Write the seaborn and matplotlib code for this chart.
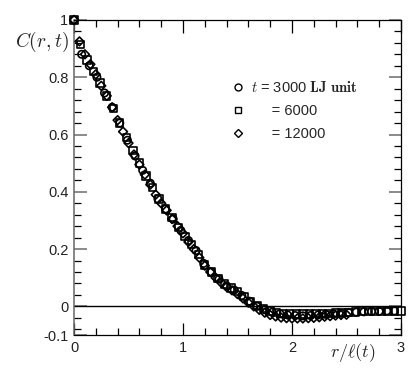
import matplotlib
matplotlib.use('Agg')
import matplotlib.pyplot as plt
from matplotlib.lines import Line2D
from matplotlib.ticker import FixedLocator, MultipleLocator
import seaborn as sns

# data
x_3000 = [0, .07, .14, .21, .28, .35, .42, .49, .56, .63, .70, .77, .84, .91, .98,
          1.05, 1.12, 1.19, 1.26, 1.33, 1.40, 1.47, 1.54, 1.61, 1.68, 1.75, 1.82,
          1.89, 1.96, 2.03, 2.10, 2.17, 2.24, 2.31, 2.38, 2.45, 2.52, 2.59, 2.66,
          2.73, 2.80, 2.87, 2.94]
c_3000 = [1.00, 0.88, 0.84, 0.80, 0.745, 0.695, 0.64, 0.58, 0.525, 0.475, 0.43,
          0.375, 0.34, 0.305, 0.265, 0.23, 0.195, 0.15, 0.12, 0.095, 0.072, 0.057,
          0.038, 0.018, 0.000, -0.012, -0.020, -0.026, -0.030, -0.032, -0.033,
          -0.032, -0.030, -0.028, -0.026, -0.024, -0.022, -0.020, -0.019, -0.018,
          -0.017, -0.016, -0.016]

x_6000 = [0, .06, .12, .18, .24, .30, .36, .42, .48, .54, .60, .66, .72, .78, .84,
          .90, .96, 1.02, 1.08, 1.14, 1.20, 1.26, 1.32, 1.38, 1.44, 1.50, 1.56,
          1.62, 1.68, 1.74, 1.80, 1.86, 1.92, 1.98, 2.04, 2.10, 2.16, 2.22, 2.28,
          2.34, 2.40, 2.46, 2.52, 2.58, 2.64, 2.70, 2.76, 2.82, 2.88, 2.94, 3.00]
c_6000 = [1.00, 0.915, 0.86, 0.82, 0.78, 0.735, 0.69, 0.64, 0.59, 0.545, 0.50,
          0.455, 0.415, 0.375, 0.34, 0.31, 0.275, 0.245, 0.215, 0.18, 0.145, 0.12,
          0.097, 0.078, 0.064, 0.051, 0.034, 0.018, 0.004, -0.008, -0.016, -0.021,
          -0.024, -0.026, -0.027, -0.027, -0.027, -0.026, -0.025, -0.024, -0.023,
          -0.022, -0.021, -0.020, -0.019, -0.018, -0.018, -0.017, -0.017, -0.016,
          -0.016]

x_12000 = [0, .05, .10, .15, .20, .25, .30, .35, .40, .45, .50, .55, .60, .65, .70,
           .75, .80, .85, .90, .95, 1.00, 1.05, 1.10, 1.15, 1.20, 1.25, 1.30, 1.35,
           1.40, 1.45, 1.50, 1.55, 1.60, 1.65, 1.70, 1.75, 1.80, 1.85, 1.90, 1.95,
           2.00, 2.05, 2.10, 2.15, 2.20, 2.25, 2.30, 2.35, 2.40, 2.45, 2.50]
c_12000 = [1.00, 0.925, 0.88, 0.845, 0.81, 0.77, 0.735, 0.695, 0.65, 0.61, 0.57,
           0.53, 0.495, 0.46, 0.425, 0.39, 0.36, 0.335, 0.305, 0.28, 0.255, 0.225,
           0.20, 0.17, 0.142, 0.12, 0.10, 0.083, 0.068, 0.056, 0.043, 0.028, 0.013,
           0.000, -0.012, -0.022, -0.030, -0.035, -0.039, -0.041, -0.042, -0.042,
           -0.042, -0.041, -0.040, -0.038, -0.036, -0.034, -0.032, -0.030, -0.029]

y_ticks = [-0.1, 0, 0.2, 0.4, 0.6, 0.8, 1.0]
y_tick_labels = ['-0.1', '0', '0.2', '0.4', '0.6', '0.8', '1']
x_ticks = [0, 1, 2, 3]
x_tick_labels = ['0', '1', '2', '3']

sns.set_style('ticks')
plt.rcParams['font.family'] = ['Liberation Sans', 'DejaVu Sans']
plt.rcParams['mathtext.fontset'] = 'cm'

fig = plt.figure(figsize=(4.17, 3.76), dpi=100)
ax = fig.add_axes([0.1775, 0.109, 0.784, 0.838])

ax.axhline(0, color='black', lw=1, zorder=1)

series = [(x_3000, c_3000, 'o'), (x_6000, c_6000, 's'), (x_12000, c_12000, 'D')]
for xs, cs, m in series:
    size = 28 if m != 'D' else 20
    sns.scatterplot(x=xs, y=cs, marker=m, s=size, facecolor='none',
                    edgecolor='black', linewidth=1.2, ax=ax, zorder=3,
                    clip_on=False)

ax.set_xlim(0, 3)
ax.set_ylim(-0.1, 1.0)
ax.xaxis.set_major_locator(FixedLocator(x_ticks))
ax.set_xticklabels(x_tick_labels)
ax.xaxis.set_minor_locator(MultipleLocator(0.2))
ax.yaxis.set_major_locator(FixedLocator(y_ticks))
ax.set_yticklabels(y_tick_labels)
ax.yaxis.set_minor_locator(MultipleLocator(0.04))

ax.tick_params(which='both', direction='in', top=True, right=True,
               labelsize=10.5, labelcolor='#222222', color='black', width=0.9)
ax.tick_params(which='major', length=9, pad=4)
ax.tick_params(which='minor', length=5)
ax.tick_params(axis='y', which='major', color='#777777', width=1.2)
for side in ['top', 'right', 'bottom']:
    ax.spines[side].set_linewidth(0.9)
    ax.spines[side].set_color('black')
ax.spines['left'].set_color('#666666')
ax.spines['left'].set_linewidth(1.1)

ax.set_xlabel('')
ax.set_ylabel('')
fig.text(0.100, 0.889, r'$C(r,t)$', fontsize=14, ha='center', va='center')
fig.text(0.847, 0.062, r'$r/\ell(t)$', fontsize=13, ha='center', va='center')

handles = [Line2D([], [], marker='o', ls='none', mfc='none', mec='black', ms=5),
           Line2D([], [], marker='s', ls='none', mfc='none', mec='black', ms=4.5),
           Line2D([], [], marker='D', ls='none', mfc='none', mec='black', ms=4)]
labels = [r'$t$ = 3000 $\mathbf{LJ\ unit}$', '     = 6000', '     = 12000']
ax.legend(handles, labels, loc='upper left', bbox_to_anchor=(0.44, 0.85),
          frameon=False, fontsize=10.5, handletextpad=0.4, labelspacing=0.6,
          handlelength=1.0)

fig.savefig('out.png', dpi=100)
